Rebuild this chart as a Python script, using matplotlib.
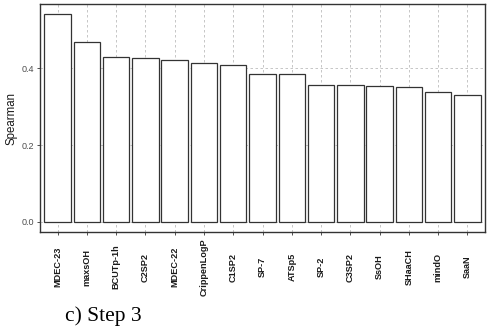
import matplotlib
matplotlib.use('Agg')
import matplotlib.pyplot as plt
import numpy as np

# descriptor names and Spearman correlation (step 3)
descriptors = ["MDEC-23", "maxsOH", "BCUTp-1h", "C2SP2", "MDEC-22", "CrippenLogP",
               "C1SP2", "SP-7", "ATSp5", "SP-2", "C3SP2", "SsOH", "SHaaCH", "mindO", "SaaN"]
spearman = [0.541, 0.470, 0.430, 0.428, 0.422, 0.415, 0.409, 0.386, 0.385,
            0.358, 0.356, 0.354, 0.351, 0.338, 0.330]
yticks = [0.0, 0.2, 0.4]

fig = plt.figure(figsize=(4.93, 3.33), dpi=100)
ax = fig.add_axes([40 / 493, 1 - 232.3 / 333, 445 / 493, 228.3 / 333])

x = np.arange(1, len(descriptors) + 1)
ax.bar(x, spearman, width=0.9, color="white", edgecolor="#333333", linewidth=0.9, zorder=3)

ymax = max(spearman)
ax.set_xlim(0.4, len(descriptors) + 0.6)
ax.set_ylim(-0.05 * ymax, 1.05 * ymax)
ax.set_xticks(x)
ax.set_xticklabels(descriptors, rotation=90, va="center", ha="center",
                   fontsize=6.6, fontweight="bold", family="Liberation Sans", color="#1a1a1a")
ax.set_yticks(yticks)
ax.set_yticklabels([f"{v:.1f}" for v in yticks], fontsize=6.5, family="Liberation Sans", color="#4d4d4d")
ax.tick_params(axis="x", length=2.5, width=0.6, color="#333333", pad=22.5)
ax.tick_params(axis="y", length=2.5, width=0.6, color="#333333", pad=1.5)

ax.grid(True, color="#bdbdbd", linestyle=(0, (3, 3)), linewidth=0.6, zorder=0)
for s in ax.spines.values():
    s.set_color("#333333")
    s.set_linewidth(1.0)

ax.set_ylabel("Spearman", fontsize=8.3, family="Liberation Sans", color="#1a1a1a", labelpad=3.5)

fig.text(65 / 493, 1 - 321.5 / 333, "c) Step 3", fontsize=15.5, family="Liberation Serif",
         color="black", ha="left", va="baseline")

plt.savefig("out.png", dpi=100)
plt.close()
